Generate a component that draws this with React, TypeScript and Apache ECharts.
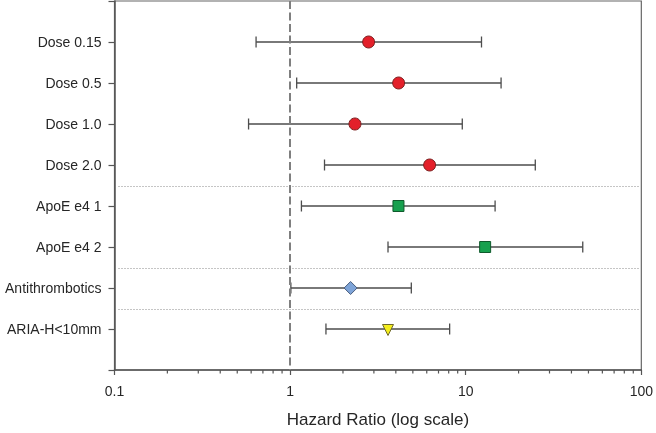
import React, { useEffect, useRef } from "react";
import * as echarts from "echarts";

const labels = ["Dose 0.15", "Dose 0.5", "Dose 1.0", "Dose 2.0", "ApoE e4 1", "ApoE e4 2", "Antithrombotics", "ARIA-H<10mm"];
const hazard = [2.8, 4.15, 2.34, 6.23, 4.14, 12.9, 2.21, 3.61];
const lower = [0.64, 1.09, 0.58, 1.57, 1.16, 3.61, 1.01, 1.6];
const upper = [12.3, 15.9, 9.56, 24.9, 14.7, 46.4, 4.9, 8.1];
const groups = ["dose", "dose", "dose", "dose", "apoe", "apoe", "anti", "aria"];
const separators = [4.5, 6.5, 7.5];
const minorTicks = [0.2, 0.3, 0.4, 0.5, 0.6, 0.7, 0.8, 0.9, 2, 3, 4, 5, 6, 7, 8, 9, 20, 30, 40, 50, 60, 70, 80, 90];
const xTicks = [0.1, 1, 10, 100];
const referenceLine = 1;

const groupStyle: Record<string, any> = {
  dose: { symbol: "circle", size: 12, color: "#e3202a", border: "#7a1f1f", rotate: 0, offset: [0, 0] },
  apoe: { symbol: "rect", size: 11, color: "#17a04e", border: "#0f5a2c", rotate: 0, offset: [0, 0] },
  anti: { symbol: "diamond", size: 13, color: "#7ea4d8", border: "#4a5d7e", rotate: 0, offset: [0, 0] },
  aria: { symbol: "triangle", size: 11, color: "#f4ee1d", border: "#6f6a2a", rotate: 180, offset: [0, 1] },
};

const AXIS = "#555555";
const TEXT = "#262626";
const FONT = "Liberation Sans, Arial, sans-serif";

export default function App() {
  const ref = useRef<HTMLDivElement>(null);
  useEffect(() => {
    const chart = echarts.init(ref.current!, null, { renderer: "svg" });
    const barData = labels.map((_, i) => [lower[i], upper[i], i + 1]);
    const pointData = labels.map((_, i) => {
      const g = groupStyle[groups[i]];
      return {
        value: [hazard[i], i + 1],
        symbol: g.symbol,
        symbolSize: g.size,
        symbolRotate: g.rotate,
        symbolOffset: g.offset,
        itemStyle: { color: g.color, borderColor: g.border, borderWidth: 1, opacity: 1 },
      };
    });
    chart.setOption({
      animation: false,
      grid: {
        left: 114.5,
        right: 14,
        top: 1,
        bottom: 62.3,
        show: true,
        borderColor: "#666666",
        borderWidth: 1.2,
        backgroundColor: "transparent",
      },
      xAxis: {
        type: "log",
        logBase: 10,
        min: xTicks[0],
        max: xTicks[xTicks.length - 1],
        name: "Hazard Ratio (log scale)",
        nameLocation: "middle",
        nameGap: 41,
        nameTextStyle: { fontFamily: FONT, fontSize: 17, color: TEXT },
        axisLine: { show: true, onZero: false, lineStyle: { color: AXIS, width: 1.5 } },
        axisTick: { show: true, length: 5, lineStyle: { color: AXIS, width: 1.2 } },
        axisLabel: {
          margin: 14,
          fontFamily: FONT,
          fontSize: 14,
          color: TEXT,
          formatter: (v: number) => String(v),
        },
        splitLine: { show: false },
        minorTick: { show: false },
      },
      yAxis: {
        type: "value",
        min: 0,
        max: 9,
        interval: 1,
        inverse: true,
        axisLine: { show: true, onZero: false, lineStyle: { color: AXIS, width: 1.5 } },
        axisTick: { show: true, length: 6, lineStyle: { color: AXIS, width: 1.2 } },
        axisLabel: {
          margin: 13,
          fontFamily: FONT,
          fontSize: 14,
          color: TEXT,
          formatter: (v: number) => (v >= 1 && v <= labels.length ? labels[v - 1] : ""),
        },
        splitLine: { show: false },
      },
      series: [
        {
          type: "custom",
          name: "separators",
          silent: true,
          clip: false,
          data: separators.map((s) => [referenceLine, s]),
          encode: { x: 0, y: 1 },
          renderItem: (params: any, api: any) => {
            const cs = params.coordSys;
            const p = api.coord([referenceLine, api.value(1)]);
            const y = Math.round(p[1]) + 0.5;
            return {
              type: "line",
              shape: { x1: cs.x + 4, y1: y, x2: cs.x + cs.width - 2, y2: y },
              style: { stroke: "#8a8a8a", lineWidth: 1, lineDash: [1, 2] },
            };
          },
          z: 1,
        },
        {
          type: "custom",
          name: "minorTicks",
          silent: true,
          clip: false,
          data: minorTicks.map((t) => [t, 9]),
          encode: { x: 0, y: 1 },
          renderItem: (params: any, api: any) => {
            const p = api.coord([api.value(0), api.value(1)]);
            return {
              type: "line",
              shape: { x1: p[0], y1: p[1], x2: p[0], y2: p[1] + 3.5 },
              style: { stroke: AXIS, lineWidth: 1.2 },
            };
          },
          z: 1,
        },
        {
          type: "custom",
          name: "errorBars",
          silent: true,
          clip: false,
          data: barData,
          encode: { x: [0, 1], y: 2 },
          renderItem: (params: any, api: any) => {
            const y = api.value(2);
            const a = api.coord([api.value(0), y]);
            const b = api.coord([api.value(1), y]);
            const h = 5.5;
            const st = { stroke: "#4d4d4d", lineWidth: 1.3 };
            return {
              type: "group",
              children: [
                { type: "line", shape: { x1: a[0], y1: a[1], x2: b[0], y2: b[1] }, style: st },
                { type: "line", shape: { x1: a[0], y1: a[1] - h, x2: a[0], y2: a[1] + h }, style: st },
                { type: "line", shape: { x1: b[0], y1: b[1] - h, x2: b[0], y2: b[1] + h }, style: st },
              ],
            };
          },
          z: 2,
        },
        {
          type: "scatter",
          name: "hazard",
          data: pointData,
          markLine: {
            silent: true,
            symbol: "none",
            label: { show: false },
            lineStyle: { color: "#7f7f7f", width: 2, type: [8, 3.5] },
            data: [{ xAxis: referenceLine }],
          },
          z: 3,
        },
      ],
    });
    return () => chart.dispose();
  }, []);
  return <div ref={ref} style={{ position: "fixed", left: 0, top: 0, width: 656, height: 433 }} />;
}
